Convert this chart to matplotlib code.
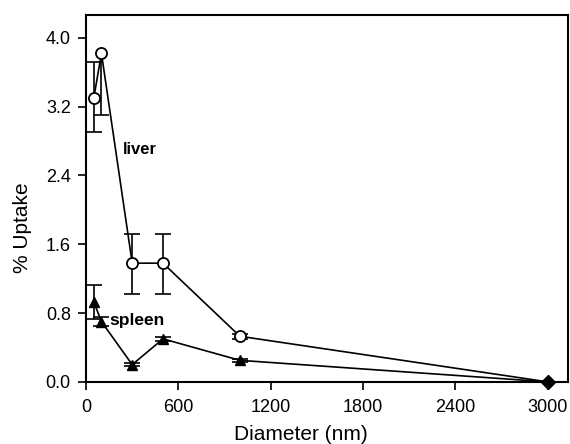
import matplotlib
matplotlib.use("Agg")
import matplotlib.pyplot as plt

diameter = [50, 100, 300, 500, 1000, 3000]
liver = [3.30, 3.82, 1.38, 1.38, 0.53, 0.0]
liver_err_lo = [0.40, 0.72, 0.36, 0.36, 0.03, 0.0]
liver_err_hi = [0.42, 0.0, 0.34, 0.34, 0.03, 0.0]
spleen = [0.93, 0.70, 0.20, 0.50, 0.25, 0.0]
spleen_err_lo = [0.20, 0.05, 0.02, 0.02, 0.02, 0.0]
spleen_err_hi = [0.20, 0.05, 0.02, 0.02, 0.02, 0.0]
xticks = [0, 600, 1200, 1800, 2400, 3000]
yticks = [0.0, 0.8, 1.6, 2.4, 3.2, 4.0]

plt.rcParams['font.family'] = ['Liberation Sans', 'DejaVu Sans']
fig = plt.figure(figsize=(5.7, 4.44), dpi=100)
ax = fig.add_axes([0.151, 0.140, 0.846, 0.827])


def draw_err(xs, ys, lo, hi):
    ax.errorbar(xs, ys, yerr=[lo, hi], fmt='none', ecolor='black',
                elinewidth=1.2, capsize=0, zorder=2)
    cx, cy = [], []
    for x, y, l, h in zip(xs, ys, lo, hi):
        if l > 0:
            cx.append(x); cy.append(y - l)
        if h > 0:
            cx.append(x); cy.append(y + h)
    ax.plot(cx, cy, linestyle='none', marker='_', ms=12, mew=1.2, color='black', zorder=2)


draw_err(diameter, liver, liver_err_lo, liver_err_hi)
draw_err(diameter, spleen, spleen_err_lo, spleen_err_hi)
ax.plot(diameter, liver, color='black', lw=1.2, zorder=3)
ax.plot(diameter, spleen, color='black', lw=1.2, zorder=3)
ax.plot(diameter[:-1], liver[:-1], 'o', ms=8, mfc='white', mec='black', mew=1.3, zorder=4)
ax.plot(diameter[:-1], spleen[:-1], '^', ms=7, mfc='black', mec='black', zorder=4)
ax.plot(diameter[-1:], liver[-1:], 'D', ms=7, mfc='black', mec='black', zorder=5, clip_on=False)

ax.text(240, 2.70, 'liver', fontsize=12, fontweight='bold', ha='left', va='center')
ax.text(150, 0.71, 'spleen', fontsize=12.5, fontweight='bold', ha='left', va='center')

ax.set_xlim(0, 3135)
ax.set_ylim(0, 4.27)
ax.set_xticks(xticks)
ax.set_xticklabels([str(t) for t in xticks])
ax.set_yticks(yticks)
ax.set_yticklabels([f"{t:.1f}" for t in yticks])
ax.tick_params(direction='out', length=6, width=1.2, labelsize=13)
ax.tick_params(axis='x', pad=6)
ax.tick_params(axis='y', pad=5)
for s in ax.spines.values():
    s.set_linewidth(1.5)
ax.set_xlabel('Diameter (nm)', fontsize=15)
ax.set_ylabel('% Uptake', fontsize=15)
ax.xaxis.set_label_coords(0.446, -0.117)
ax.yaxis.set_label_coords(-0.112, 0.42)

fig.savefig('out.png', dpi=100)
